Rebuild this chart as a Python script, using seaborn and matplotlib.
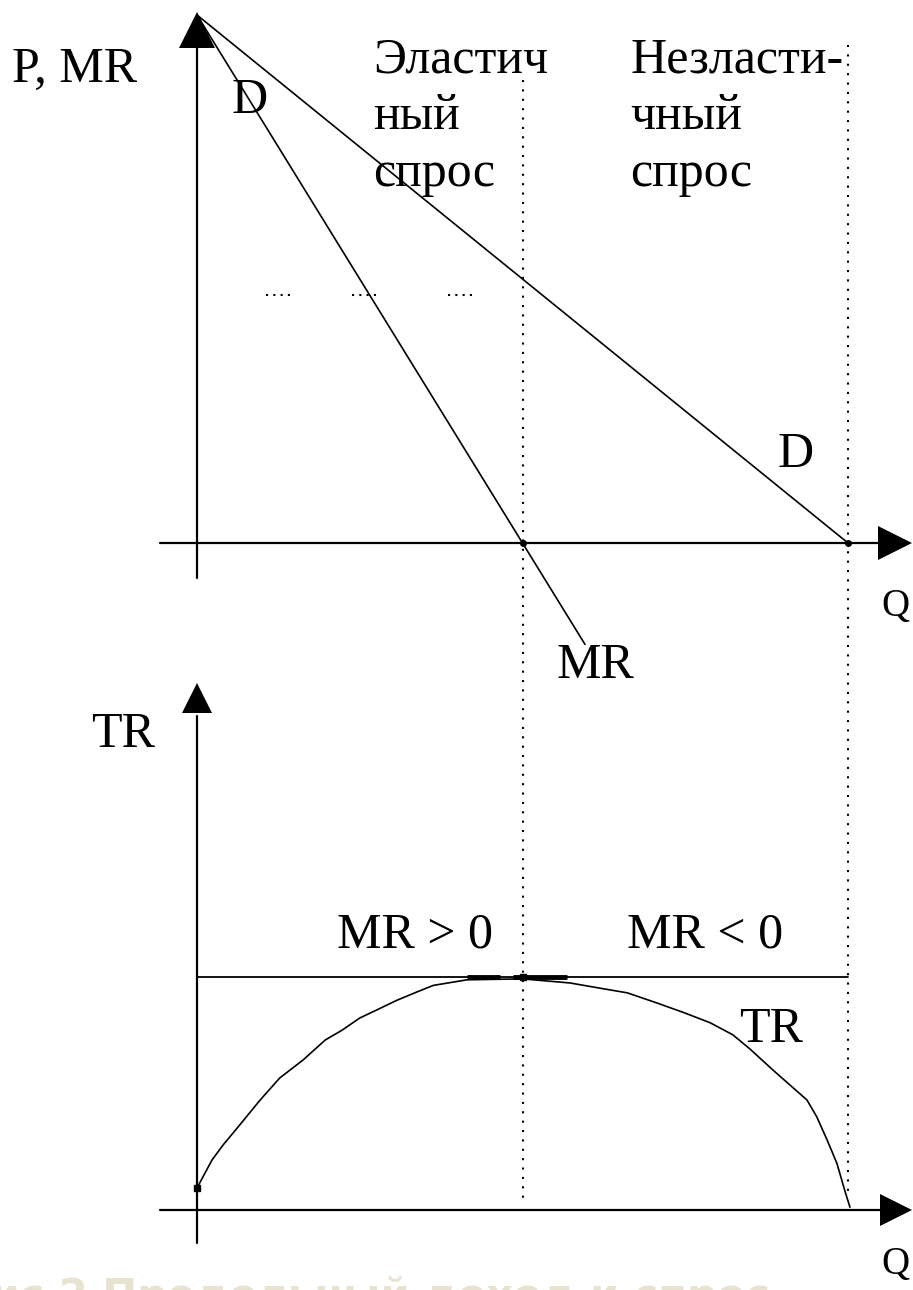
import numpy as np
import matplotlib.pyplot as plt
import seaborn as sb
import pandas as pd

sb.set_theme(style="white")
plt.rcParams['font.family'] = ['Liberation Serif', 'DejaVu Serif']
plt.rcParams['text.color'] = 'black'

# --- data ---
# demand and marginal revenue, upper panel
q_demand = [0, 10]
p_demand = [10, 0]
q_mr = [0, 5, 5.96]
p_mr = [10, 0, -1.92]

# total revenue, lower panel
q_tr = [0, 0.23, 0.40, 0.63, 0.97, 1.27, 1.63, 1.97, 2.23, 2.50, 2.76, 3.07, 3.38,
        3.63, 4.15, 5.0, 5.73, 6.19, 6.61, 7.07, 7.47, 7.88, 8.23, 8.49, 8.85,
        9.37, 9.52, 9.68, 9.83, 9.95, 10.03]
tr = [2.36, 5.36, 6.97, 8.9, 11.8, 14.16, 16.1, 18.24, 19.3, 20.6, 21.46, 22.5, 23.4,
      24.1, 24.7, 24.8, 24.36, 23.8, 23.3, 22.2, 21.2, 20.1, 18.8, 17.3, 15.0,
      11.8, 10.0, 7.5, 5.0, 2.1, 0.3]
tr_max = 25
q_unit_elastic = 5
q_max = 10

# stray dotted bits at P = 4.7
dot_p = 4.7
dot_segments = [(1.06, 1.46), (2.38, 2.78), (3.85, 4.25)]
# bold bits on the TR max line
bold_segments = [(4.15, 4.65), (4.85, 5.68)]

# --- pixel scales of the drawing ---
W, H = 913, 1290
x0, px_q = 197, 65.1          # Q = 0 at x=197, 65.1 px per unit
y_top0, px_p = 543, 52.8      # P = 0 at y=543
y_bot0, px_tr = 1210, 9.32    # TR = 0 at y=1210

fig = plt.figure(figsize=(W / 100, H / 100), dpi=100)
top = fig.add_axes([0, 0, 1, 1])
bot = fig.add_axes([0, 0, 1, 1])
xlim = (-x0 / px_q, (W - x0) / px_q)
top.set_xlim(xlim)
bot.set_xlim(xlim)
top.set_ylim((y_top0 - H) / px_p, y_top0 / px_p)
bot.set_ylim((y_bot0 - H) / px_tr, y_bot0 / px_tr)
for a in (top, bot):
    a.axis("off")
    a.patch.set_alpha(0)

def p_of(y):
    return (y_top0 - y) / px_p

def tr_of(y):
    return (y_bot0 - y) / px_tr

def q_of(x):
    return (x - x0) / px_q

k = 'black'
# axes with arrows
top.plot([0, 0], [p_of(48), p_of(578)], color=k, lw=1.6)
top.plot([q_of(160), q_of(885)], [0, 0], color=k, lw=1.6)
top.plot([0], [p_of(30)], marker='^', ms=26, color=k, mew=0)
top.plot([q_of(895)], [0], marker='>', ms=24, color=k, mew=0)
bot.plot([0, 0], [tr_of(716), tr_of(1243)], color=k, lw=1.6)
bot.plot([q_of(160), q_of(883)], [0, 0], color=k, lw=1.6)
bot.plot([0], [tr_of(698)], marker='^', ms=22, color=k, mew=0)
bot.plot([q_of(896)], [0], marker='>', ms=23, color=k, mew=0)

# dotted guides
dots = (0, (1.0, 3.5))
top.plot([q_unit_elastic] * 2, [p_of(80), p_of(1200)], color=k, lw=1.5, ls=dots)
top.plot([q_max] * 2, [p_of(45), p_of(1195)], color=k, lw=1.5, ls=dots)
for a_, b_ in dot_segments:
    top.plot([a_, b_], [dot_p, dot_p], color=k, lw=1.5, ls=(0, (1.0, 2.5)))

# D and MR
sb.lineplot(x=q_demand, y=p_demand, ax=top, color=k, lw=1.2)
sb.lineplot(x=q_mr, y=p_mr, ax=top, color=k, lw=1.2, sort=False)
top.plot([q_max, q_unit_elastic], [0, 0], 'o', color=k, ms=4)

# TR
bot.plot([0, q_max], [tr_max, tr_max], color=k, lw=1.3)
for a_, b_ in bold_segments:
    bot.plot([a_, b_], [tr_max, tr_max], color=k, lw=3.5, solid_capstyle='butt')
sb.lineplot(x=q_tr, y=tr, ax=bot, color=k, lw=1.2)
bot.plot([q_unit_elastic], [tr_max], 's', color=k, ms=5)
bot.plot([0], [tr[0]], 's', color=k, ms=4)

fs = 36
top.text(q_of(12), p_of(70), "P, MR", fontsize=fs, va='center', ha='left')
top.text(q_of(232), p_of(101), "D", fontsize=fs, va='center', ha='left')
top.text(q_of(778), p_of(455), "D", fontsize=fs, va='center', ha='left')
top.text(q_of(881), p_of(606), "Q", fontsize=28, va='center', ha='left')
top.text(q_of(556), p_of(666), "MR", fontsize=fs, va='center', ha='left')
for i, w in enumerate(["Эластич", "ный", "спрос"]):
    top.text(q_of(373), p_of(60 + 57 * i), w, fontsize=fs, va='center', ha='left')
for i, w in enumerate(["Незласти-", "чный", "спрос"]):
    top.text(q_of(630), p_of(60 + 57 * i), w, fontsize=fs, va='center', ha='left')

bot.text(q_of(91), tr_of(735), "TR", fontsize=fs, va='center', ha='left')
bot.text(q_of(337), tr_of(935), "MR > 0", fontsize=fs, va='center', ha='left')
bot.text(q_of(627), tr_of(935), "MR < 0", fontsize=fs, va='center', ha='left')
bot.text(q_of(739), tr_of(1030), "TR", fontsize=fs, va='center', ha='left')
bot.text(q_of(881), tr_of(1264), "Q", fontsize=28, va='center', ha='left')

# faded caption, mostly cut off by the bottom edge
bot.text(q_of(-40), tr_of(1276), "Рис 2 Предельный доход и спрос", fontsize=30,
         fontweight='bold', color='#e8e3d0', va='top', ha='left',
         family=['DejaVu Sans'])

fig.savefig("out.png", dpi=100)
